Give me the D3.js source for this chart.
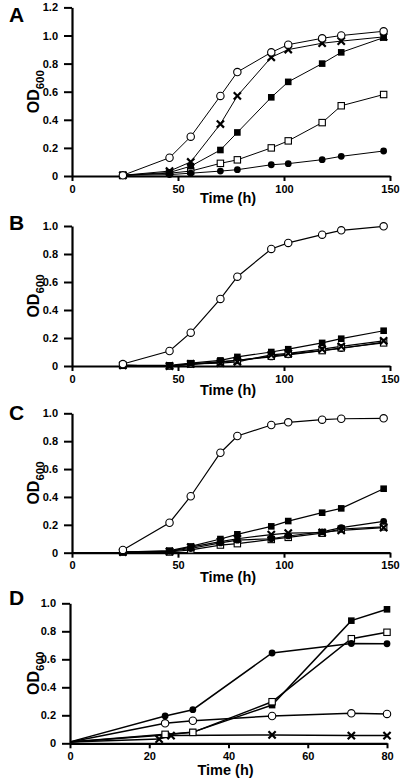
<!DOCTYPE html>
<html><head><meta charset="utf-8">
<script src="https://cdn.jsdelivr.net/npm/d3@7/dist/d3.min.js"></script>
<style>
html,body{margin:0;padding:0;background:#fff;}
svg{display:block;font-family:"Liberation Sans",Arial,Helvetica,sans-serif;}
</style></head>
<body><svg id="chart" width="400" height="780"></svg>
<script>
// ---------- DATA ----------
const timesABC = [24, 46, 56, 70, 78, 94, 102, 118, 127, 147];
const timesD = [0, 24, 31, 51, 71, 80];
const timesDcross = [0, 22.5, 25.5, 51, 71, 80];

const A_openCircle   = [0.005, 0.13, 0.28, 0.57, 0.74, 0.88, 0.935, 0.98, 1.0, 1.03];
const A_cross        = [0.005, 0.035, 0.10, 0.37, 0.57, 0.845, 0.90, 0.945, 0.96, 0.99];
const A_filledSquare = [0.005, 0.025, 0.07, 0.185, 0.31, 0.56, 0.67, 0.80, 0.88, 0.985];
const A_openSquare   = [0.005, 0.02, 0.035, 0.09, 0.115, 0.20, 0.25, 0.38, 0.50, 0.58];
const A_filledCircle = [0.005, 0.01, 0.02, 0.035, 0.045, 0.08, 0.088, 0.116, 0.14, 0.178];

const B_openCircle   = [0.014, 0.107, 0.238, 0.479, 0.638, 0.836, 0.879, 0.938, 0.969, 0.998];
const B_filledSquare = [0.005, 0.005, 0.02, 0.04, 0.065, 0.10, 0.12, 0.165, 0.195, 0.252];
const B_cross        = [0.005, 0.0, 0.015, 0.02, 0.03, 0.08, 0.09, 0.12, 0.14, 0.18];
const B_openSquare   = [0.005, 0.0, 0.015, 0.03, 0.04, 0.07, 0.085, 0.11, 0.13, 0.165];
const B_filledCircle = [0.005, 0.0, 0.01, 0.03, 0.04, 0.065, 0.08, 0.11, 0.125, 0.17];

const C_openCircle   = [0.02, 0.215, 0.405, 0.717, 0.837, 0.916, 0.935, 0.954, 0.961, 0.964];
const C_filledSquare = [0.005, 0.015, 0.045, 0.098, 0.132, 0.189, 0.227, 0.287, 0.318, 0.459];
const C_filledCircle = [0.005, 0.01, 0.03, 0.07, 0.09, 0.10, 0.12, 0.15, 0.18, 0.225];
const C_cross        = [0.005, 0.01, 0.04, 0.08, 0.10, 0.13, 0.14, 0.145, 0.16, 0.18];
const C_openSquare   = [0.005, 0.005, 0.02, 0.055, 0.065, 0.095, 0.11, 0.14, 0.17, 0.185];

const D_filledCircle = [0.01, 0.195, 0.24, 0.645, 0.713, 0.711];
const D_filledSquare = [0.01, 0.06, 0.08, 0.273, 0.876, 0.957];
const D_openSquare   = [0.01, 0.064, 0.078, 0.297, 0.747, 0.793];
const D_openCircle   = [0.01, 0.143, 0.161, 0.195, 0.214, 0.21];
const D_cross        = [0.01, 0.03, 0.055, 0.06, 0.055, 0.055];

const xTicksABC = [0, 50, 100, 150];
const xTicksD = [0, 20, 40, 60, 80];
const yTicksA = [0, 0.2, 0.4, 0.6, 0.8, 1.0, 1.2];
const yTicks1 = [0, 0.2, 0.4, 0.6, 0.8, 1.0];

// ---------- LAYOUT ----------
const panels = [
  {letter:"A", xDom:[0,150], xR:[72,390], yDom:[0,1.2], yR:[176,7.4], xt:xTicksABC, yt:yTicksA, lw:1, letterY:22, timeOff:27,
   series:[
     {t:timesABC, v:A_openSquare, m:"openSquare"},
     {t:timesABC, v:A_filledCircle, m:"filledCircle"},
     {t:timesABC, v:A_filledSquare, m:"filledSquare"},
     {t:timesABC, v:A_cross, m:"cross"},
     {t:timesABC, v:A_openCircle, m:"openCircle"}]},
  {letter:"B", xDom:[0,150], xR:[72,390], yDom:[0,1.0], yR:[366,226], xt:xTicksABC, yt:yTicks1, lw:1.2, letterY:230, timeOff:28.5,
   series:[
     {t:timesABC, v:B_filledCircle, m:"filledCircle"},
     {t:timesABC, v:B_openSquare, m:"openSquare"},
     {t:timesABC, v:B_cross, m:"cross"},
     {t:timesABC, v:B_filledSquare, m:"filledSquare"},
     {t:timesABC, v:B_openCircle, m:"openCircle"}]},
  {letter:"C", xDom:[0,150], xR:[72,390], yDom:[0,1.0], yR:[552.7,413.3], xt:xTicksABC, yt:yTicks1, lw:1.2, letterY:420, timeOff:29.5,
   series:[
     {t:timesABC, v:C_openSquare, m:"openSquare"},
     {t:timesABC, v:C_cross, m:"cross"},
     {t:timesABC, v:C_filledCircle, m:"filledCircle"},
     {t:timesABC, v:C_filledSquare, m:"filledSquare"},
     {t:timesABC, v:C_openCircle, m:"openCircle"}]},
  {letter:"D", xDom:[0,80], xR:[70,387], yDom:[0,1.0], yR:[743.3,603.3], xt:xTicksD, yt:yTicks1, lw:1.5, letterY:605, timeOff:31.5,
   series:[
     {t:timesDcross, v:D_cross, m:"cross"},
     {t:timesD, v:D_openCircle, m:"openCircle"},
     {t:timesD, v:D_filledSquare, m:"filledSquare"},
     {t:timesD, v:D_openSquare, m:"openSquare"},
     {t:timesD, v:D_filledCircle, m:"filledCircle"}]}
];

const svg = d3.select("#chart");
const yFmt = d => d === 0 ? "0" : d3.format(".1f")(d);

function drawMarker(g, m, x, y){
  if (m === "openCircle") g.append("circle").attr("cx",x).attr("cy",y).attr("r",3.7).attr("fill","#fff").attr("stroke","#000").attr("stroke-width",1.1);
  else if (m === "filledCircle") g.append("circle").attr("cx",x).attr("cy",y).attr("r",3.4).attr("fill","#000");
  else if (m === "filledSquare") g.append("rect").attr("x",x-3.3).attr("y",y-3.3).attr("width",6.6).attr("height",6.6).attr("fill","#000");
  else if (m === "openSquare") g.append("rect").attr("x",x-3.2).attr("y",y-3.2).attr("width",6.4).attr("height",6.4).attr("fill","#fff").attr("stroke","#000").attr("stroke-width",1.1);
  else if (m === "cross") {
    const s = 3.6;
    g.append("path").attr("d",`M${x-s},${y-s}L${x+s},${y+s}M${x-s},${y+s}L${x+s},${y-s}`).attr("stroke","#000").attr("stroke-width",2.2).attr("fill","none");
  }
}

panels.forEach(p => {
  const x = d3.scaleLinear().domain(p.xDom).range(p.xR);
  const y = d3.scaleLinear().domain(p.yDom).range(p.yR);
  const g = svg.append("g");

  // axes
  const xa = g.append("g").attr("transform",`translate(0,${p.yR[0]})`)
    .call(d3.axisBottom(x).tickValues(p.xt).tickSize(5).tickSizeOuter(0).tickPadding(4).tickFormat(d3.format("d")));
  const ya = g.append("g").attr("transform",`translate(${p.xR[0]},0)`)
    .call(d3.axisLeft(y).tickValues(p.yt).tickSize(8).tickSizeOuter(0).tickPadding(6).tickFormat(yFmt));
  [xa, ya].forEach(a => {
    a.select(".domain").attr("stroke","#000").attr("stroke-width",2.2);
    a.selectAll(".tick line").attr("stroke","#000").attr("stroke-width",2);
    a.selectAll(".tick text").attr("fill","#000").style("font-size","11px").style("font-weight","bold")
      .style("font-family","'Liberation Sans',Arial,sans-serif");
  });

  // lines
  const line = d3.line().x(d => x(d[0])).y(d => y(d[1]));
  p.series.forEach(s => {
    const pts = s.t.map((t,i) => [t, s.v[i]]);
    g.append("path").attr("d", line(pts)).attr("fill","none").attr("stroke","#000").attr("stroke-width",p.lw);
  });
  p.series.forEach(s => {
    const mg = g.append("g");
    s.t.forEach((t,i) => { if (t > 0) drawMarker(mg, s.m, x(t), y(s.v[i])); });
  });

  // labels
  const cx = (p.xR[0]+p.xR[1])/2;
  g.append("text").attr("x", cx - 3).attr("y", p.yR[0] + p.timeOff).attr("text-anchor","middle")
    .style("font-size","14.5px").style("font-weight","bold").text("Time (h)");
  const cy = (p.yR[0]+p.yR[1])/2;
  const yl = g.append("text").attr("transform",`translate(39,${cy}) rotate(-90)`).attr("text-anchor","middle")
    .style("font-size","16px").style("font-weight","bold");
  yl.append("tspan").text("OD");
  yl.append("tspan").attr("dy",5).style("font-size","11.5px").text("600");
  g.append("text").attr("x", 9).attr("y", p.letterY).style("font-size","21px").style("font-weight","bold").text(p.letter);
});
</script></body></html>
